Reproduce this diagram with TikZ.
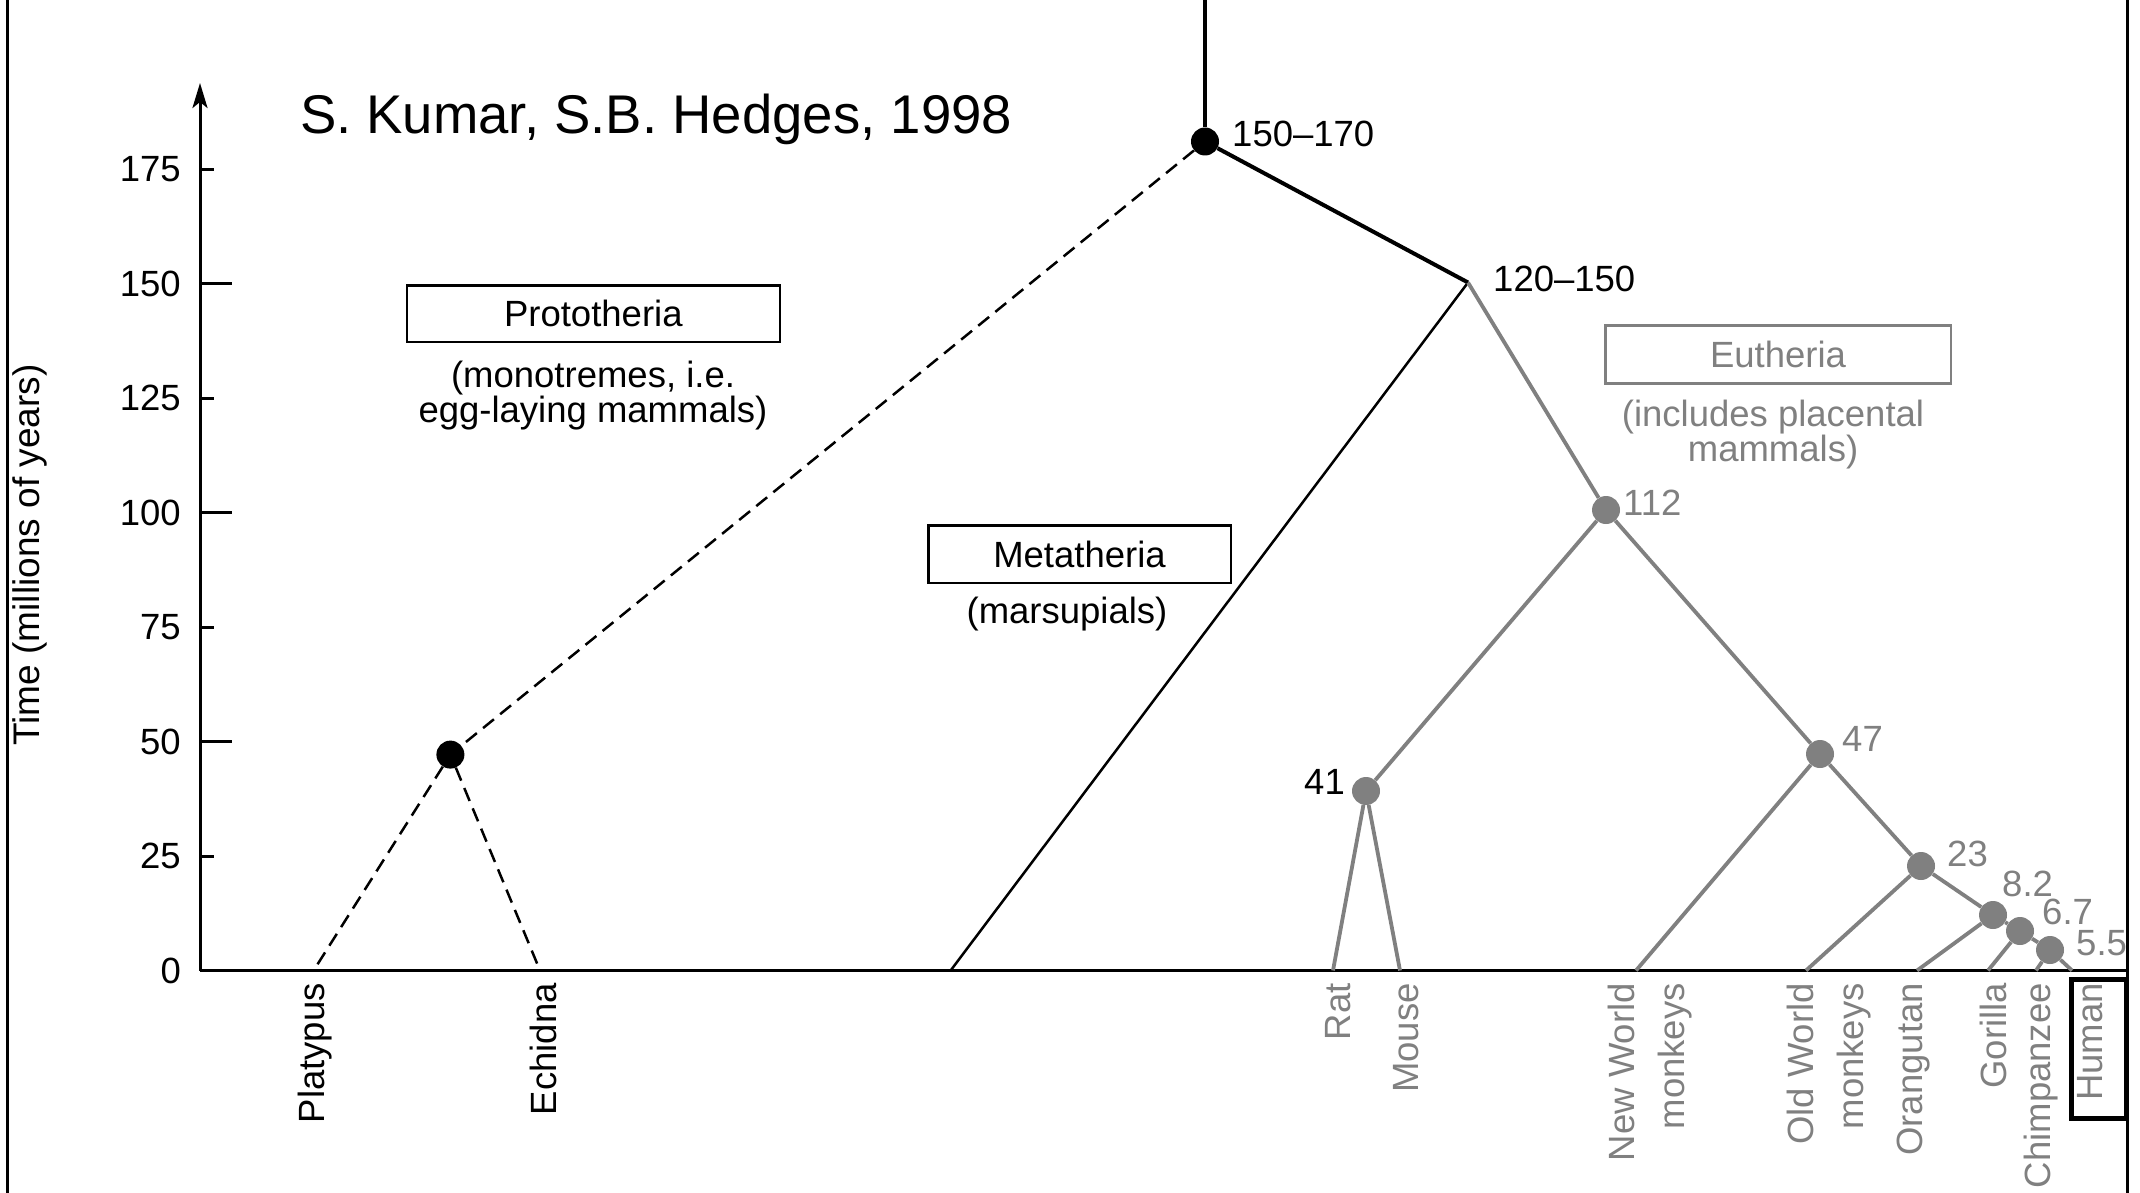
\documentclass[tikz,border=0pt]{standalone}
\usepackage{fontspec}
\setmainfont{Liberation Sans}
\usetikzlibrary{arrows.meta}
\definecolor{tg}{RGB}{128,128,128}
\begin{document}
\begin{tikzpicture}[x=1pt,y=-1pt,
  lbl/.style={inner sep=0pt, font=\fontsize{36.5}{40}\selectfont},
  glbl/.style={lbl, text=tg},
  tiplbl/.style={lbl, rotate=90, anchor=base east},
  dotb/.style={circle, fill=black, minimum size=28pt, inner sep=0pt},
  dotg/.style={circle, fill=tg, minimum size=28pt, inner sep=0pt},
  cladebox/.style={draw, line width=2.5pt, inner sep=0pt},
  dashedge/.style={line width=2.5pt, dash pattern=on 14pt off 8pt},
  gedge/.style={line width=3.8pt, draw=tg},
  frameline/.style={line width=3pt}
]
\useasboundingbox (0,0) rectangle (2140,1193);

% frame
\draw[frameline] (7,0) -- (7,1193);
\draw[frameline] (2127,0) -- (2127,1193);

% axes
\coordinate (ax0) at (200,970.5);
\coordinate (axtop) at (200,83);
\coordinate (axright) at (2127,970.5);
\draw[line width=3pt, -{Stealth[length=25pt,width=15pt,inset=6pt]}] (ax0) -- (axtop);
\draw[line width=3pt] (ax0) -- (axright);
\foreach \t/\len in {0/31.5,25/14,50/31.5,75/14,100/31.5,125/14,150/31.5,175/14}{
  \pgfmathsetmacro{\yy}{970.5-4.577*\t}
  \draw[line width=3pt] (200,\yy) -- ++(\len,0);
  \node[lbl, anchor=east] (tick\t) at (181,\yy) {\t};
}
\node[lbl, rotate=90, anchor=base, font=\fontsize{37}{40}\selectfont] (ylab) at (39,555) {Time (millions of years)};

% title
\node[inner sep=0pt, font=\fontsize{54.5}{60}\selectfont, anchor=base] (title) at (656,134) {S. Kumar, S.B. Hedges, 1998};

% tree points
\coordinate (Rtop) at (1205,0);
\node[dotb] (R) at (1205,141.5) {};
\coordinate (N120) at (1468,282.5);
\node[dotb] (P) at (450.4,754.6) {};
\coordinate (tPl) at (313.6,970.5);
\coordinate (tEc) at (540,970.5);
\coordinate (tMe) at (950.6,970.5);
\node[dotg] (N112) at (1606,510) {};
\node[dotg] (N41) at (1366,791) {};
\coordinate (tRa) at (1333,970.5);
\coordinate (tMo) at (1400,970.5);
\node[dotg] (N47) at (1820,754) {};
\coordinate (tNW) at (1636,970.5);
\node[dotg] (N23) at (1921,866) {};
\coordinate (tOW) at (1806,970.5);
\node[dotg] (N82) at (1993,915) {};
\coordinate (tOr) at (1917,970.5);
\node[dotg] (N67) at (2020,931) {};
\coordinate (tGo) at (1988,970.5);
\node[dotg] (N55) at (2050,950) {};
\coordinate (tCh) at (2036,970.5);
\coordinate (tHu) at (2072,970.5);

% black edges
\draw[line width=3.3pt] (Rtop) -- (R);
\draw[line width=4pt] (R) -- (N120);
\draw[line width=2.5pt] (N120) -- (tMe);
\draw[dashedge] (R) -- (P);
\draw[dashedge] (P) -- (tPl);
\draw[dashedge] (P) -- (tEc);

% gray edges
\draw[gedge] (N120) -- (N112);
\draw[gedge] (N112) -- (N41);
\draw[gedge] (N112) -- (N47);
\draw[gedge] (N41) -- (tRa);
\draw[gedge] (N41) -- (tMo);
\draw[gedge] (N47) -- (tNW);
\draw[gedge] (N47) -- (N23);
\draw[gedge] (N23) -- (tOW);
\draw[gedge] (N23) -- (N82);
\draw[gedge] (N82) -- (tOr);
\draw[gedge] (N82) -- (N67);
\draw[gedge] (N67) -- (tGo);
\draw[gedge] (N67) -- (N55);
\draw[gedge] (N55) -- (tCh);
\draw[gedge] (N55) -- (tHu);

% node labels
\node[lbl, anchor=base west] (l150) at (1232,147) {150–170};
\node[lbl, anchor=base west] (l120) at (1493,291) {120–150};
\node[glbl, anchor=base west] (l112) at (1623,515) {112};
\node[lbl, anchor=base east] (l41) at (1345,794) {41};
\node[glbl, anchor=base west] (l47) at (1842,751) {47};
\node[glbl, anchor=base west] (l23) at (1947,866) {23};
\node[glbl, anchor=base west] (l82) at (2002,896) {8.2};
\node[glbl, anchor=base west] (l67) at (2042,924) {6.7};
\node[glbl, anchor=base west] (l55) at (2076,955) {5.5};

% clade boxes
\node[cladebox, lbl, minimum width=373pt, minimum height=56.5pt] (proto) at (593.3,313.8) {Prototheria};
\node[lbl, align=center, font=\fontsize{36.5}{35}\selectfont] (protosub) at (593,396) {(monotremes, i.e.\\egg-laying mammals)};
\node[cladebox, lbl, minimum width=302.5pt, minimum height=57.2pt] (meta) at (1079.5,554.2) {Metatheria};
\node[lbl] (metasub) at (1067,614) {(marsupials)};
\node[cladebox, glbl, draw=tg, minimum width=345.5pt, minimum height=57.6pt] (euth) at (1778,354.5) {Eutheria};
\node[glbl, align=center, font=\fontsize{36.5}{31}\selectfont] (euthsub) at (1773,435) {(includes placental\\mammals)};

% tip labels
\node[tiplbl] (nPl) at (324,983) {Platypus};
\node[tiplbl] (nEc) at (556,983) {Echidna};
\node[tiplbl, text=tg] (nRa) at (1350,983) {Rat};
\node[tiplbl, text=tg] (nMo) at (1418,983) {Mouse};
\node[tiplbl, text=tg] (nNW1) at (1634,983) {New World};
\node[tiplbl, text=tg] (nNW2) at (1684,983) {monkeys};
\node[tiplbl, text=tg] (nOW1) at (1813,983) {Old World};
\node[tiplbl, text=tg] (nOW2) at (1863,983) {monkeys};
\node[tiplbl, text=tg] (nOr) at (1922,983) {Orangutan};
\node[tiplbl, text=tg] (nGo) at (2006,983) {Gorilla};
\node[tiplbl, text=tg] (nCh) at (2050,983) {Chimpanzee};
\node[tiplbl, text=tg] (nHu) at (2102,983) {Human};
\node[draw, line width=5pt, minimum width=55pt, minimum height=139pt, inner sep=0pt] (hbox) at (2098.5,1049) {};
\end{tikzpicture}
\end{document}
